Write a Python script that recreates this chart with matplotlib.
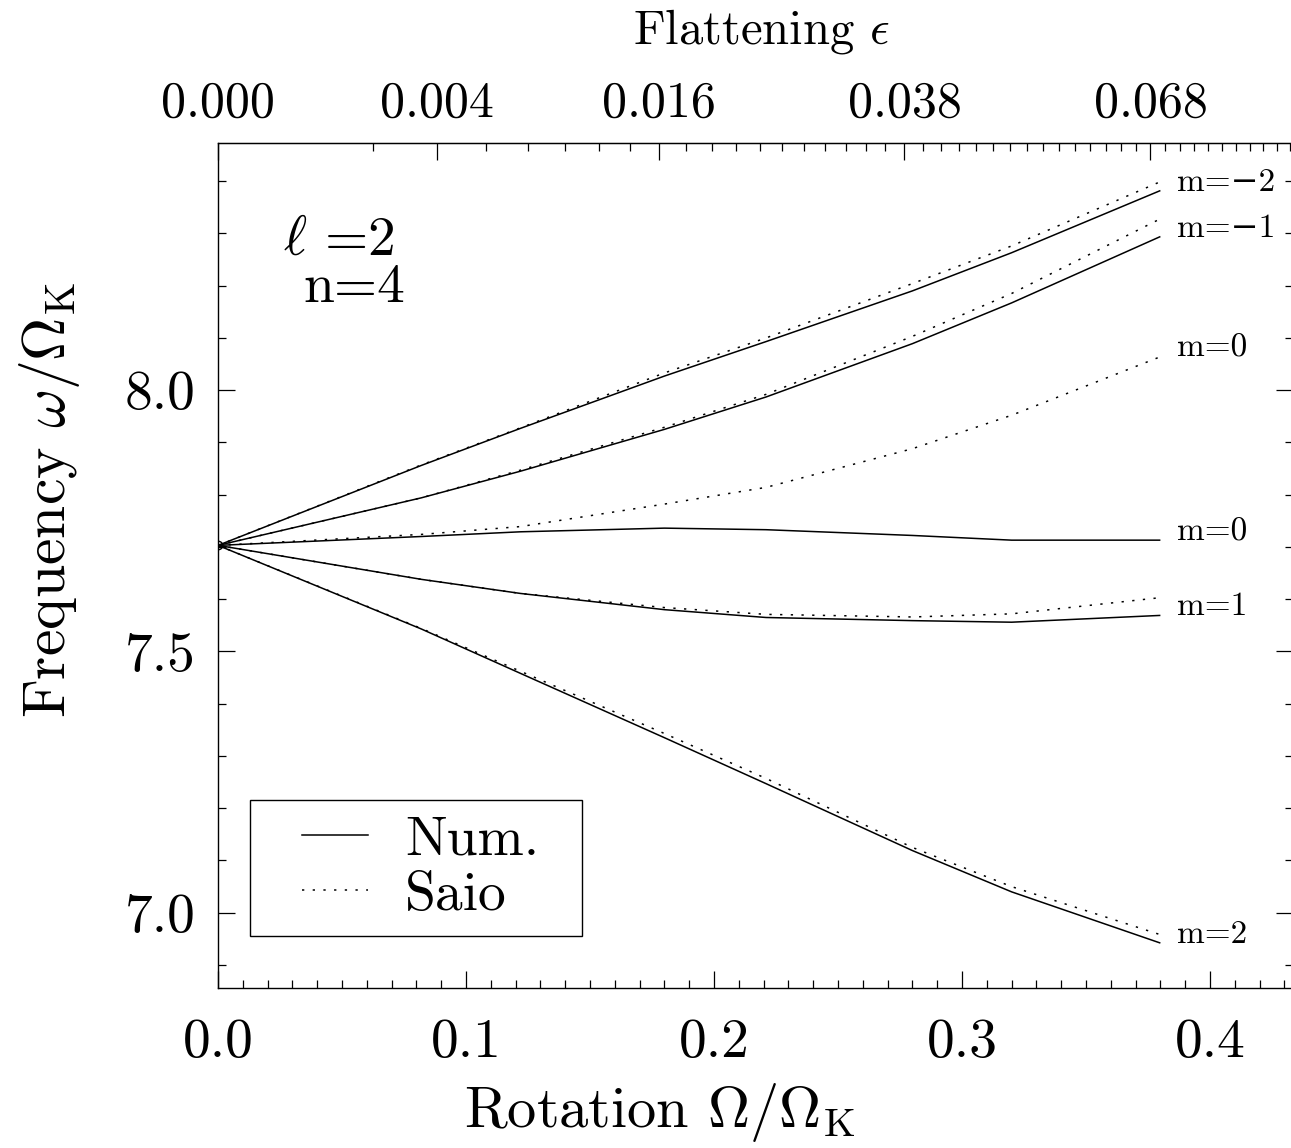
import numpy as np
import matplotlib
matplotlib.use("Agg")
import matplotlib.pyplot as plt
from matplotlib.ticker import MultipleLocator, FixedLocator
from matplotlib.lines import Line2D
from matplotlib.legend_handler import HandlerLine2D

plt.rcParams['font.family'] = ['cmr10', 'DejaVu Serif']
plt.rcParams['mathtext.fontset'] = 'cm'
plt.rcParams['axes.unicode_minus'] = False
plt.rcParams['axes.formatter.use_mathtext'] = True

# ---------------- data ----------------
omega = [0.0, 0.082, 0.122, 0.180, 0.221, 0.280, 0.320, 0.380]

num_m_minus2 = [7.703, 7.856, 7.927, 8.027, 8.093, 8.190, 8.263, 8.382]
saio_m_minus2 = [7.703, 7.857, 7.928, 8.033, 8.100, 8.204, 8.276, 8.399]
num_m_minus1 = [7.703, 7.794, 7.845, 7.925, 7.987, 8.089, 8.167, 8.294]
saio_m_minus1 = [7.703, 7.794, 7.847, 7.929, 7.992, 8.103, 8.185, 8.328]
num_m0 = [7.703, 7.720, 7.729, 7.736, 7.733, 7.722, 7.713, 7.713]
saio_m0 = [7.703, 7.724, 7.739, 7.782, 7.814, 7.888, 7.952, 8.064]
num_m1 = [7.703, 7.638, 7.611, 7.580, 7.565, 7.559, 7.556, 7.569]
saio_m1 = [7.703, 7.638, 7.611, 7.584, 7.571, 7.566, 7.572, 7.603]
num_m2 = [7.703, 7.543, 7.458, 7.335, 7.247, 7.119, 7.040, 6.942]
saio_m2 = [7.703, 7.544, 7.462, 7.343, 7.257, 7.125, 7.050, 6.958]

curve_labels = ['m=\u22122', 'm=\u22121', 'm=0', 'm=0', 'm=1', 'm=2']

x_ticks = [0.0, 0.1, 0.2, 0.3, 0.4]
x_ticklabels = ['0.0', '0.1', '0.2', '0.3', '0.4']
y_ticks = [7.0, 7.5, 8.0]
y_ticklabels = ['7.0', '7.5', '8.0']
eps_major = [0.0, 0.004, 0.016, 0.038, 0.068]
eps_labels = ['0.000', '0.004', '0.016', '0.038', '0.068']
eps_minor_step = 0.002

# ---------------- figure ----------------
W, H = 1291, 1148
fig = plt.figure(figsize=(W / 100, H / 100), dpi=100)
px0, px1, py0, py1 = 218, 1293, 143, 988
ax = fig.add_axes([px0 / W, 1 - py1 / H, (px1 - px0) / W, (py1 - py0) / H])

def axx(px):
    return (px - px0) / (px1 - px0)

def axy(py):
    return (py1 - py) / (py1 - py0)

lw = 1.1
dot = (0, (1.5, 5.5))
series = [
    (num_m_minus2, saio_m_minus2),
    (num_m_minus1, saio_m_minus1),
    (num_m0, saio_m0),
    (num_m1, saio_m1),
    (num_m2, saio_m2),
]
for num, saio in series:
    ax.plot(omega, num, color='black', lw=lw, solid_capstyle='butt')
    ax.plot(omega, saio, color='black', lw=lw, linestyle=dot)
ax.plot([omega[0]], [num_m0[0]], marker='o', ms=6, mfc='none', mec='black', mew=1.0)

# labels at curve ends
label_y = [num_m_minus2[-1], num_m_minus1[-1], saio_m0[-1], num_m0[-1], num_m1[-1], num_m2[-1]]
for txt, yv in zip(curve_labels, label_y):
    ax.text(0.3865, yv, txt, fontsize=24, ha='left', va='baseline', color='black')

ax.set_xlim(0, (px1 - px0) / 2480.0)
ax.set_ylim(6.856, 8.473)

ax.set_xticks(x_ticks)
ax.set_xticklabels(x_ticklabels)
ax.set_yticks(y_ticks)
ax.set_yticklabels(y_ticklabels)
ax.xaxis.set_minor_locator(MultipleLocator(0.01))
ax.yaxis.set_minor_locator(MultipleLocator(0.1))
ax.tick_params(which='both', direction='in', top=False, right=True, width=0.9, colors='black')
ax.tick_params(which='major', length=12.5)
ax.tick_params(which='minor', length=6)
ax.tick_params(axis='x', labelsize=40, pad=22)
ax.tick_params(axis='y', labelsize=40, pad=16)
for s in ax.spines.values():
    s.set_linewidth(1.0)

ax.set_xlabel(r'Rotation $\Omega/\Omega_{\mathrm{K}}$', fontsize=42)
ax.xaxis.label.set_verticalalignment('bottom')
ax.xaxis.set_label_coords(axx(660), axy(1144))
ax.set_ylabel(r'Frequency $\omega/\Omega_{\mathrm{K}}$', fontsize=43)
ax.yaxis.set_label_coords(axx(82), axy(500))

# top axis: flattening
K = 1.03
def om2eps(om):
    om = np.asarray(om, dtype=float)
    q = om ** 2 / 2.0
    return K * q / (1.0 + q)

def eps2om(e):
    u = np.clip(np.asarray(e, dtype=float) / K, 0, 0.9)
    return np.sqrt(2 * u / (1 - u))

secax = ax.secondary_xaxis('top', functions=(om2eps, eps2om))
secax.set_xticks(eps_major)
secax.set_xticklabels(eps_labels)
secax.xaxis.set_minor_locator(FixedLocator(np.arange(1, 45) * eps_minor_step))
secax.tick_params(which='both', direction='in', width=0.9)
secax.tick_params(which='major', length=12.5, labelsize=36, pad=12)
secax.tick_params(which='minor', length=6)
fig.text(762 / W, 1 - 32 / H, r'Flattening $\epsilon$', fontsize=35, ha='center', va='center')

# annotation l, n
ax.text(axx(283), axy(255), r'$\ell$ =2', transform=ax.transAxes,
        fontsize=40, va='baseline', ha='left')
ax.text(axx(303), axy(302), 'n=4', transform=ax.transAxes,
        fontsize=40, va='baseline', ha='left')

# legend
fs_leg = 40
bp = 0.28
h_num = Line2D([], [], color='black', lw=lw)
h_saio = Line2D([], [], color='black', lw=lw, linestyle=dot)
lx0, lx1, ly0, ly1 = axx(250), axx(582), axy(935), axy(800)
leg = ax.legend([h_num, h_saio], ['Num.', 'Saio'], loc='upper left',
                bbox_to_anchor=(lx0, ly0, lx1 - lx0, ly1 - ly0), mode='expand',
                borderaxespad=0, fontsize=fs_leg, frameon=True, fancybox=False,
                edgecolor='black', framealpha=1, borderpad=bp, labelspacing=0.1,
                handlelength=1.845, handletextpad=0.67,
                handler_map={Line2D: HandlerLine2D(xpad=0.655)})
leg.get_frame().set_linewidth(1.0)

fig.savefig('out.png', dpi=100)
